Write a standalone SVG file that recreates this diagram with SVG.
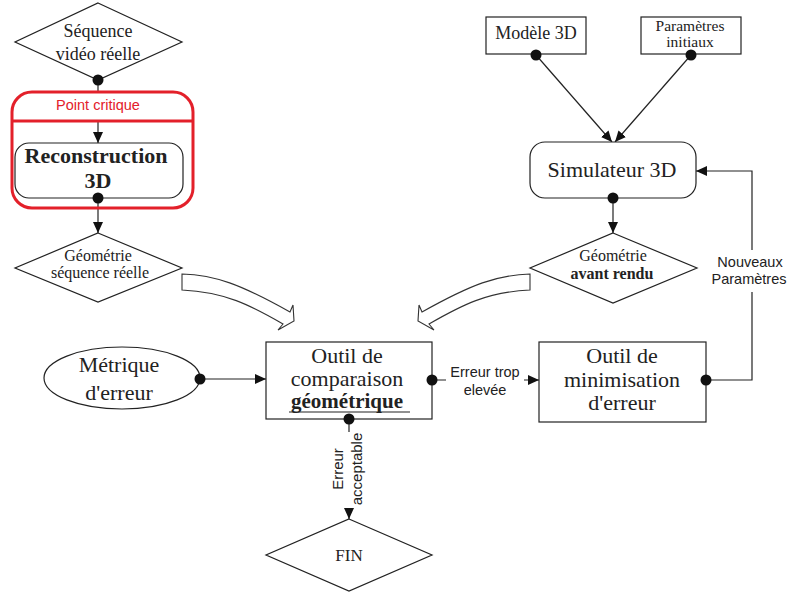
<svg xmlns="http://www.w3.org/2000/svg" width="787" height="592" viewBox="0 0 787 592">
<style>
.shape{fill:#fff;stroke:#222;stroke-width:1.2}
.t{font-family:"Liberation Serif","Times New Roman",serif;fill:#222;text-anchor:middle}
.s{font-family:"Liberation Sans",Arial,sans-serif;fill:#222;text-anchor:middle}
.b{font-weight:bold}
.ln{fill:none;stroke:#222;stroke-width:1.2}
.dot{fill:#111}
.blk{fill:#fff;stroke:#333;stroke-width:1.1}
</style>
<defs>
<marker id="ah" markerUnits="userSpaceOnUse" markerWidth="11" markerHeight="10" refX="11" refY="5" orient="auto">
<path d="M0,0 L11,5 L0,10 z" fill="#111"/>
</marker>
</defs>
<rect width="787" height="592" fill="#fff"/>

<g id="connectors">
<line class="ln" x1="98" y1="80" x2="98" y2="92"/>
<line class="ln" x1="98" y1="121" x2="98" y2="143" marker-end="url(#ah)"/>
<line class="ln" x1="98" y1="198" x2="98" y2="233" marker-end="url(#ah)"/>
<line class="ln" x1="200" y1="379" x2="266" y2="379" marker-end="url(#ah)"/>
<line class="ln" x1="432" y1="380" x2="539" y2="380" marker-end="url(#ah)"/>
<line class="ln" x1="349" y1="419" x2="349" y2="519" marker-end="url(#ah)"/>
<line class="ln" x1="536" y1="55" x2="612" y2="142" marker-end="url(#ah)"/>
<line class="ln" x1="691" y1="55" x2="615" y2="142" marker-end="url(#ah)"/>
<line class="ln" x1="613" y1="198" x2="613" y2="233" marker-end="url(#ah)"/>
<polyline class="ln" points="706,380 752,380 752,171 696,171" marker-end="url(#ah)"/>
<path class="blk" d="M182,274 C215,275 240,284 290,312 L293,305 L294,321 L278,330 L283,324 C250,305 225,292 182,290 Z"/>
<path class="blk" d="M530,274 C497,275 472,284 422,312 L419,305 L418,321 L434,330 L429,324 C462,305 487,292 530,290 Z"/>
<rect x="446" y="364" width="78" height="36" fill="#fff"/>
<text class="s" x="485" y="377" font-size="14.5">Erreur trop</text>
<text class="s" x="485" y="395" font-size="14.5">elevée</text>
<rect x="710" y="250" width="80" height="42" fill="#fff"/>
<text class="s" x="750" y="267" font-size="14.5">Nouveaux</text>
<text class="s" x="749" y="284" font-size="14.5">Paramètres</text>
<rect x="330" y="432" width="36" height="76" fill="#fff"/>
<g transform="translate(349,469) rotate(-90)">
<text class="s" x="0" y="-6" font-size="15">Erreur</text>
<text class="s" x="0" y="13" font-size="15">acceptable</text>
</g>
</g>

<g id="sequence">
<polygon class="shape" points="98,3 182,42 98,80 15,42"/>
<text class="t" x="98" y="37" font-size="18">Séquence</text>
<text class="t" x="98" y="60" font-size="18">vidéo réelle</text>
<circle class="dot" cx="98" cy="80" r="5.5"/>
</g>

<g id="point-critique">
<rect x="12" y="92" width="181" height="116" rx="20" fill="none" stroke="#e3202a" stroke-width="3"/>
<line x1="12" y1="121" x2="193" y2="121" stroke="#e3202a" stroke-width="3"/>
<text class="s" x="98" y="110" font-size="14.5" style="fill:#e3202a">Point critique</text>
</g>

<g id="reconstruction">
<rect class="shape" x="15" y="143" width="168" height="55" rx="14"/>
<text class="t b" x="96" y="163" font-size="22">Reconstruction</text>
<text class="t b" x="98" y="188" font-size="22">3D</text>
<circle class="dot" cx="98" cy="198" r="5.5"/>
</g>

<g id="geom-seq">
<polygon class="shape" points="98,233 182,268 98,302 15,268"/>
<text class="t" x="98" y="261" font-size="16">Géométrie</text>
<text class="t" x="100" y="278" font-size="16">séquence réelle</text>
</g>

<g id="metrique">
<ellipse class="shape" cx="122" cy="378" rx="78" ry="31"/>
<text class="t" x="119" y="372" font-size="22">Métrique</text>
<text class="t" x="119" y="400" font-size="22">d'erreur</text>
<circle class="dot" cx="200" cy="379" r="5.5"/>
</g>

<g id="comparaison">
<rect class="shape" x="266" y="342" width="166" height="77"/>
<text class="t" x="347" y="363" font-size="22">Outil de</text>
<text class="t" x="347" y="386" font-size="22">comparaison</text>
<text class="t b" x="347" y="408" font-size="21">géométrique</text>
<line x1="289" y1="412" x2="410" y2="412" stroke="#222" stroke-width="1.2"/>
<circle class="dot" cx="432" cy="380" r="5.5"/>
<circle class="dot" cx="349" cy="419" r="5.5"/>
</g>

<g id="minimisation">
<rect class="shape" x="539" y="342" width="167" height="80"/>
<text class="t" x="622" y="363" font-size="22">Outil de</text>
<text class="t" x="622" y="387" font-size="22">minimisation</text>
<text class="t" x="622" y="410" font-size="22">d'erreur</text>
<circle class="dot" cx="706" cy="380" r="5.5"/>
</g>

<g id="modele">
<rect class="shape" x="486" y="17" width="100" height="37"/>
<text class="t" x="536" y="39" font-size="18">Modèle 3D</text>
<circle class="dot" cx="536" cy="55" r="5.5"/>
</g>

<g id="parametres">
<rect class="shape" x="641" y="17" width="100" height="37"/>
<text class="t" x="690" y="31" font-size="15.5">Paramètres</text>
<text class="t" x="690" y="47" font-size="15.5">initiaux</text>
<circle class="dot" cx="691" cy="55" r="5.5"/>
</g>

<g id="simulateur">
<rect class="shape" x="530" y="142" width="166" height="56" rx="15"/>
<text class="t" x="612" y="177" font-size="22">Simulateur 3D</text>
<circle class="dot" cx="613" cy="198" r="5.5"/>
</g>

<g id="geom-rendu">
<polygon class="shape" points="613,233 697,268 613,303 530,268"/>
<text class="t" x="613" y="261" font-size="16">Géométrie</text>
<text class="t b" x="612" y="279" font-size="16">avant rendu</text>
</g>

<g id="fin">
<polygon class="shape" points="349,519 432,555 349,591 266,555"/>
<text class="t" x="349" y="561" font-size="17">FIN</text>
</g>
</svg>
